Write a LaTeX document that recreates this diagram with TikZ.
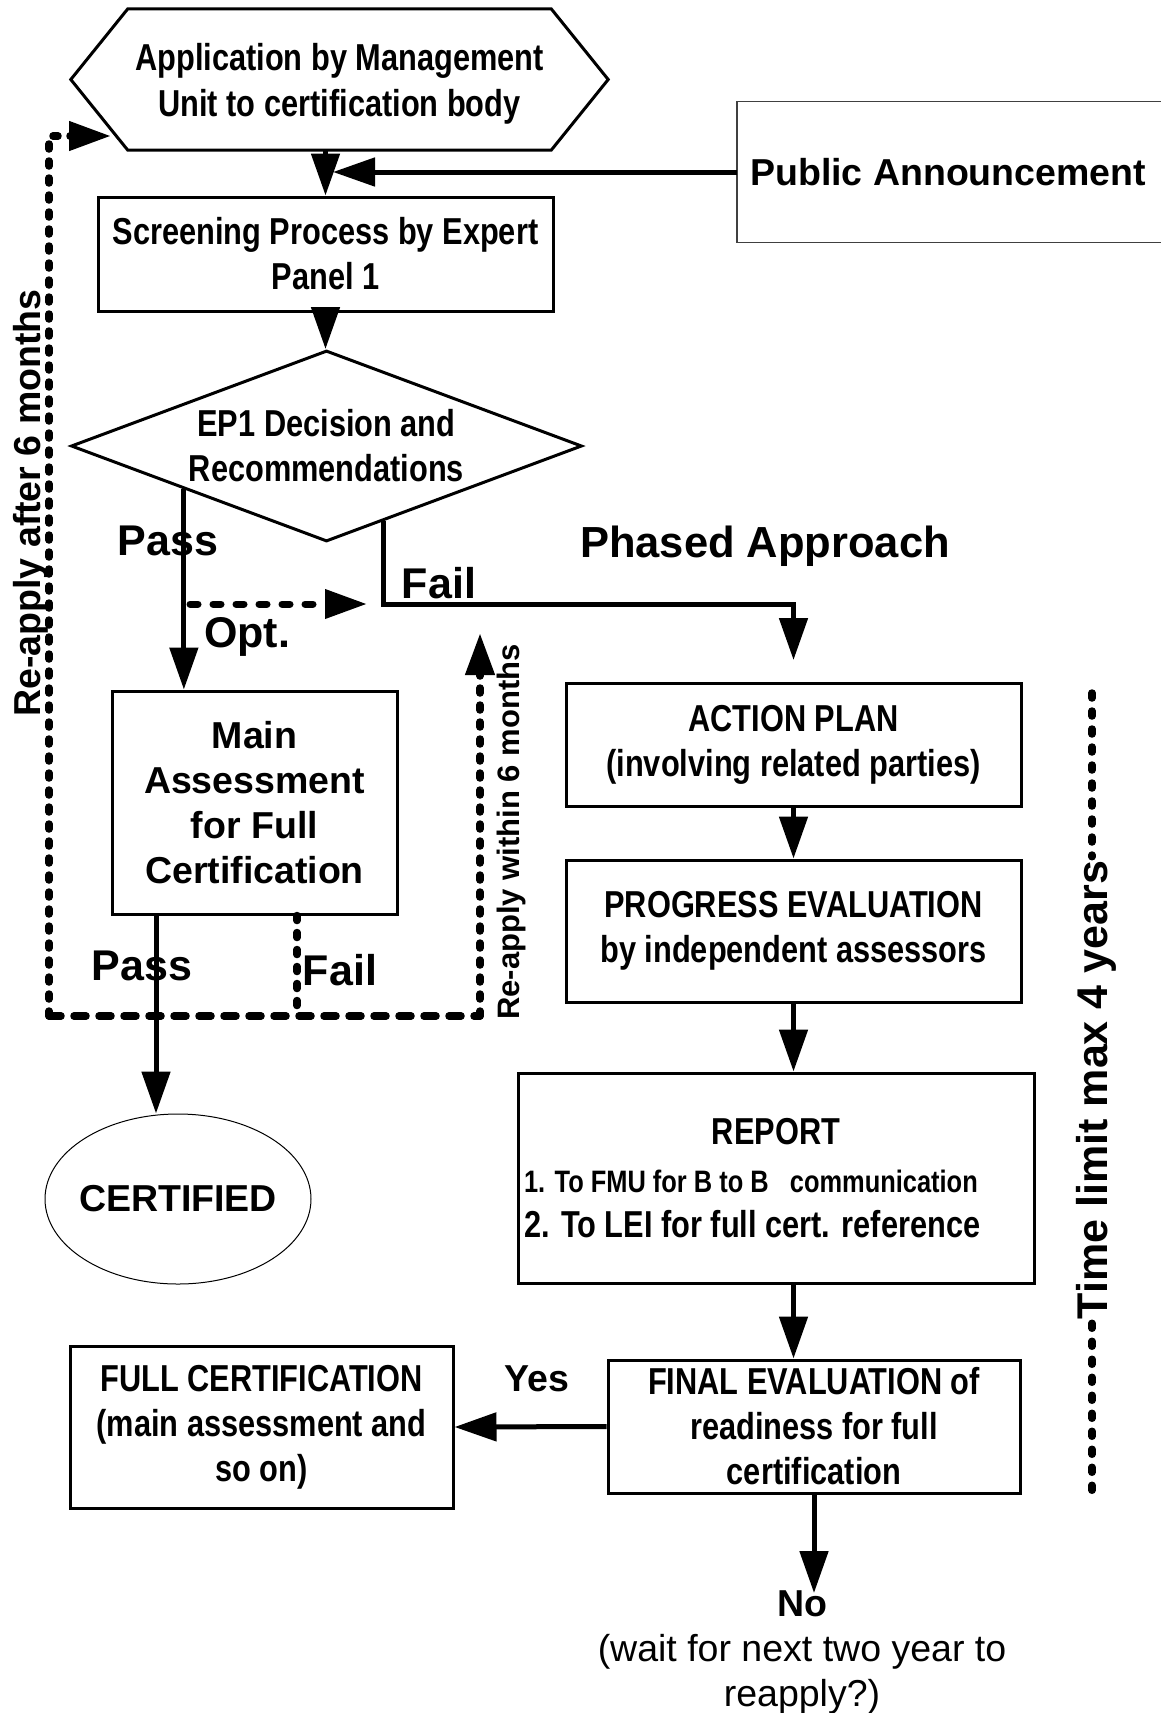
\documentclass[tikz,border=0pt]{standalone}
\usepackage{fontspec}
\setmainfont{Liberation Sans}
\newfontfamily\nf[FakeStretch=0.82]{Liberation Sans}
\usetikzlibrary{arrows.meta,shapes.geometric,calc}
\begin{document}
\begin{tikzpicture}[x=1pt,y=-1pt,
  box/.style={draw, line width=3pt, inner sep=0pt, align=center, font=\nf\bfseries\fontsize{37.5}{45}\selectfont},
  wbox/.style={box, font=\bfseries\fontsize{37.5}{45}\selectfont},
  arr/.style={line width=5pt, -{Triangle[length=42pt,width=28pt]}},
  dashH/.style={line width=7.5pt, line cap=round, dash pattern=on 12pt off 13pt},
  dashV/.style={line width=7.5pt, line cap=round, dash pattern=on 5pt off 12pt},
  dashT/.style={line width=7.5pt, line cap=round, dash pattern=on 5pt off 13pt},
  lbl/.style={inner sep=0pt, text height=31pt, text depth=0pt, font=\bfseries\fontsize{43}{50}\selectfont},
  rlbl/.style={inner sep=0pt, rotate=90, text depth=0pt}]
\fill[white] (0,0) rectangle (1160,1713);
\useasboundingbox (0,0) rectangle (1160,1713);

% application hexagon
\node[inner sep=0pt, minimum width=537pt, minimum height=141pt] (hex) at (339.5,79.5) {};
\draw[line width=3pt] (hex.west) -- ([xshift=57pt]hex.north west) -- ([xshift=-57pt]hex.north east)
   -- (hex.east) -- ([xshift=-57pt]hex.south east) -- ([xshift=57pt]hex.south west) -- cycle;
\node[inner sep=0pt, align=center, font=\nf\bfseries\fontsize{37.5}{46}\selectfont] (app) at (339.5,84)
      {Application by Management\\Unit to certification body};

% public announcement
\node[inner sep=0pt, inner xsep=13pt, minimum height=140pt,
      font=\bfseries\fontsize{37.5}{45}\selectfont, anchor=west] (pa) at (737,172)
      {\makebox[430pt][l]{Public Announcement}};
\draw[line width=1.2pt, black!75] (pa.north east) -- (pa.north west) -- (pa.south west) -- (pa.south east);

% screening
\node[box, minimum width=455pt, minimum height=114pt] (scr) at (325.5,254)
      {Screening Process by Expert\\Panel 1};
\draw[arr] (scr.north |- hex.south) -- (scr.north);
\coordinate (paT) at (333,172);
\draw[arr] (pa.west) -- (paT);

% decision
\node[diamond, draw, line width=3pt, minimum width=511pt, minimum height=191pt, shape aspect=2.675,
      inner sep=0pt, align=center, font=\nf\bfseries\fontsize{37.5}{45}\selectfont] (dec) at (326.5,446)
      {EP1 Decision and\\Recommendations};
\draw[arr] (scr.south) -- (scr.south |- dec.north);

% main assessment
\node[wbox, minimum width=285pt, minimum height=223pt] (main) at (254.5,802.5)
      {Main\\Assessment\\for Full\\Certification};
\coordinate (pS) at ($(dec.west)!0.445!(dec.south)$);
\draw[arr] (pS) -- (pS |- main.north);

% phased approach branch
\node[box, minimum width=455pt, minimum height=123pt] (act) at (793.5,744.5)
      {ACTION PLAN\\(involving related parties)};
\coordinate (fS) at ($(dec.south)!0.222!(dec.east)$);
\coordinate (fC) at (793.5,604);
\coordinate (fE) at (793.5,660);
\draw[arr] (fS) |- (fC) -- (fE);

\coordinate (oA) at (190,604);
\coordinate (oB) at (367,604);
\draw[line width=7pt, line cap=round, dash pattern=on 8pt off 15pt, -{Triangle[length=42pt,width=28pt]}] (oA) -- (oB);

\node[box, minimum width=455pt, minimum height=142pt] (prog) at (793.5,931)
      {PROGRESS EVALUATION\\by independent assessors};
\draw[arr] (act.south) -- (prog.north);

\node[box, minimum width=516pt, minimum height=210pt] (rep) at (776,1178)
      {\makebox[504pt][c]{REPORT}\\[3pt]
       \makebox[504pt][l]{\fontsize{31}{45}\selectfont 1. To FMU for B to B\ \ \ communication}\\
       \makebox[504pt][l]{2. To LEI for full cert. reference}};
\draw[arr] (prog.south) -- (prog.south |- rep.north);

\node[box, minimum width=412pt, minimum height=133pt] (fin) at (814,1426.5)
      {FINAL EVALUATION of\\readiness for full\\certification};
\draw[arr] (prog.south |- rep.south) -- (prog.south |- fin.north);

\node[box, minimum width=383pt, minimum height=162pt] (full) at (261.5,1427)
      {FULL CERTIFICATION\\(main assessment and\\so on)};
\draw[arr] (fin.west) -- (full.east);
\node[inner sep=0pt, text height=27pt, text depth=0pt, font=\bfseries\fontsize{37.5}{45}\selectfont] (yes) at (537,1378) {Yes};

\node[inner sep=0pt, align=center, font=\fontsize{37.5}{45}\selectfont] (no) at (802,1652)
      {\textbf{No}\\(wait for next two year to\\reapply?)};
\coordinate (noT) at (814,1593);
\draw[arr] (fin.south) -- (noT);

% certified
\node[ellipse, draw, line width=1pt, minimum width=266pt, minimum height=170pt, inner sep=0pt,
      font=\bfseries\fontsize{37.5}{45}\selectfont] (cert) at (178,1199) {\makebox[0pt]{CERTIFIED}};
\coordinate (mP) at (156,0);
\draw[arr] (mP |- main.south) -- (mP |- cert.north);

% fail loops
\coordinate (mF) at (297,1016);
\draw[dashV] (mF |- main.south) -- (mF);
\coordinate (lb) at (49,1016);
\coordinate (rb) at (480,1016);
\coordinate (rT) at (480,633);
\coordinate (lt) at (49,136);
\coordinate (lT) at (111,136);
\draw[dashH] (lb) -- (rb);
\draw[dashV, -{Triangle[length=42pt,width=28pt]}] (rb) -- (rT);
\draw[dashV, -{Triangle[length=42pt,width=28pt]}] (lb) -- (lt) -- (lT);

% labels
\node[lbl] (pass1) at (168,540) {Pass};
\node[lbl] (fail1) at (439,583) {Fail};
\node[lbl] (opt) at (247,632) {Opt.};
\node[lbl, text height=31pt, font=\bfseries\fontsize{43.5}{50}\selectfont] (phased) at (765,542) {Phased Approach};
\node[lbl] (pass2) at (142,965) {Pass};
\node[lbl] (fail2) at (340,970) {Fail};
\node[rlbl, text height=27pt, font=\bfseries\fontsize{37.5}{45}\selectfont] (reA) at (27,503) {Re-apply after 6 months};
\node[rlbl, text height=22pt, font=\bfseries\fontsize{31}{40}\selectfont] (reW) at (508,832) {Re-apply within 6 months};

% time limit
\node[rlbl, inner xsep=4pt, text height=31pt, font=\bfseries\fontsize{43}{50}\selectfont] (tl) at (1092,1090) {Time limit max 4 years};
\coordinate (tA) at (1092,693);
\coordinate (tB) at (1092,1500);
\draw[dashT] (tA) -- (tl.east);
\draw[dashT] (tl.west) -- (tB);
\end{tikzpicture}
\end{document}
